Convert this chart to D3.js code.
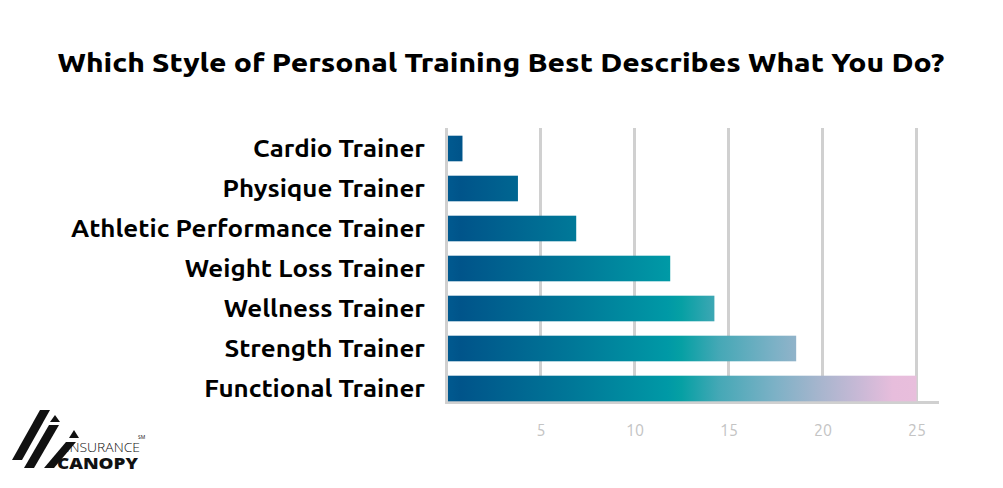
<!DOCTYPE html>
<html>
<head>
<meta charset="utf-8">
<script src="https://cdn.jsdelivr.net/npm/d3@7"></script>
<style>
  body { margin: 0; background: #fff; }
  svg { display: block; }
</style>
</head>
<body>
<svg id="chart"></svg>
<script>
var width = 1003,
    height = 488;

// data
var categories = ["Cardio Trainer", "Physique Trainer", "Athletic Performance Trainer",
                  "Weight Loss Trainer", "Wellness Trainer", "Strength Trainer", "Functional Trainer"];
var values = [0.85, 3.8, 6.9, 11.9, 14.25, 18.6, 25];
var tickLabels = [5, 10, 15, 20, 25];
var title = "Which Style of Personal Training Best Describes What You Do?";

var svg = d3.select("#chart")
    .attr("width", width)
    .attr("height", height);

var x = d3.scaleLinear().domain([0, 25]).range([446.5, 916.5]);
var y = d3.scaleBand().domain(categories).range([128.5, 408.5])
    .paddingInner(0.36).paddingOuter(0.18);

var gridTop = 128, axisY = 402.5;

// gradient across the whole value range
var defs = svg.append("defs");
var grad = defs.append("linearGradient")
    .attr("id", "barGrad")
    .attr("gradientUnits", "userSpaceOnUse")
    .attr("x1", x(0)).attr("x2", x(25))
    .attr("y1", 0).attr("y2", 0);
[[0, "#005a90"], [0.03, "#00548a"], [0.27, "#007898"], [0.47, "#0099a6"],
 [0.5, "#06a0a4"], [0.58, "#45a8b6"], [0.7, "#7db1c6"], [0.79, "#a5b5cd"],
 [0.88, "#c9b9d6"], [0.95, "#e7bddc"], [1, "#e8bedc"]].forEach(function(s){
  grad.append("stop").attr("offset", s[0]).attr("stop-color", s[1]);
});

// title
svg.append("text")
    .attr("x", 501).attr("y", 72)
    .attr("text-anchor", "middle")
    .style("font-family", "Ubuntu, 'Open Sans', sans-serif")
    .style("font-weight", 800)
    .style("font-size", "25px")
    .attr("fill", "#000")
    .attr("textLength", 887).attr("lengthAdjust", "spacingAndGlyphs")
    .text(title);

// gridlines
svg.append("g")
   .attr("class", "grid")
   .selectAll("line")
   .data(tickLabels)
   .join("line")
   .attr("x1", d => x(d)).attr("x2", d => x(d))
   .attr("y1", gridTop).attr("y2", axisY)
   .attr("stroke", "#d0d0d0")
   .attr("stroke-width", 3);

// axis lines
svg.append("line")
   .attr("x1", x(0)).attr("x2", x(0))
   .attr("y1", gridTop).attr("y2", axisY + 1.5)
   .attr("stroke", "#d0d0d0").attr("stroke-width", 3);
svg.append("line")
   .attr("x1", x(0) - 1.5).attr("x2", 939)
   .attr("y1", axisY).attr("y2", axisY)
   .attr("stroke", "#d0d0d0").attr("stroke-width", 3);

// tick labels
var xAxis = svg.append("g")
   .attr("transform", "translate(0," + axisY + ")")
   .call(d3.axisBottom(x).tickValues(tickLabels).tickSize(0).tickPadding(22));
xAxis.select(".domain").remove();
xAxis.attr("font-size", null).attr("font-family", null);
xAxis.selectAll("text")
   .attr("fill", "#c4c4c4")
   .style("font-family", "Ubuntu, 'Open Sans', sans-serif")
   .style("font-size", "16px");

// bars
svg.append("g")
   .selectAll("rect")
   .data(values)
   .join("rect")
   .attr("x", x(0) + 1.5)
   .attr("y", (d, i) => y(categories[i]))
   .attr("width", d => x(d) - x(0) - 1.5)
   .attr("height", y.bandwidth())
   .attr("fill", "url(#barGrad)");

// category labels
var labels = svg.append("g")
   .selectAll("text")
   .data(categories)
   .join("text")
   .attr("x", 425)
   .attr("y", d => y(d) + y.bandwidth() / 2 + 8)
   .attr("text-anchor", "end")
   .style("font-family", "Ubuntu, 'Open Sans', sans-serif")
   .style("font-weight", 700)
   .style("font-size", "23px")
   .attr("fill", "#000")
   .text(d => d);
var longest = 0;
labels.each(function(){ longest = Math.max(longest, this.getComputedTextLength()); });
var k = 354 / longest;
labels.each(function(){
  d3.select(this).attr("textLength", this.getComputedTextLength() * k)
    .attr("lengthAdjust", "spacingAndGlyphs");
});

// logo
var logo = svg.append("g").attr("fill", "#111");
var shapes = [
  [[40,410],[50,410],[22,460],[12,460]],
  [[55,415],[60,422],[50,422]],
  [[49,425],[59,425],[34,468],[24,468]],
  [[74,430],[79,438],[69,438]],
  [[66,442],[76,442],[54,468],[44,468]]
];
logo.selectAll("polygon")
  .data(shapes)
  .join("polygon")
  .attr("points", d => d.map(p => p.join(",")).join(" "));
logo.append("text")
  .attr("x", 66).attr("y", 452)
  .style("font-family", "'Open Sans', sans-serif")
  .style("font-weight", 300)
  .style("font-size", "12.5px")
  .attr("textLength", 74).attr("lengthAdjust", "spacingAndGlyphs")
  .text("INSURANCE");
logo.append("text")
  .attr("x", 57).attr("y", 469)
  .style("font-family", "'Open Sans', sans-serif")
  .style("font-weight", 800)
  .style("font-size", "15.5px")
  .attr("textLength", 81).attr("lengthAdjust", "spacingAndGlyphs")
  .text("CANOPY");
logo.append("text")
  .attr("x", 138).attr("y", 439)
  .style("font-family", "'Open Sans', sans-serif")
  .style("font-size", "5px")
  .text("SM");
</script>
</body>
</html>
